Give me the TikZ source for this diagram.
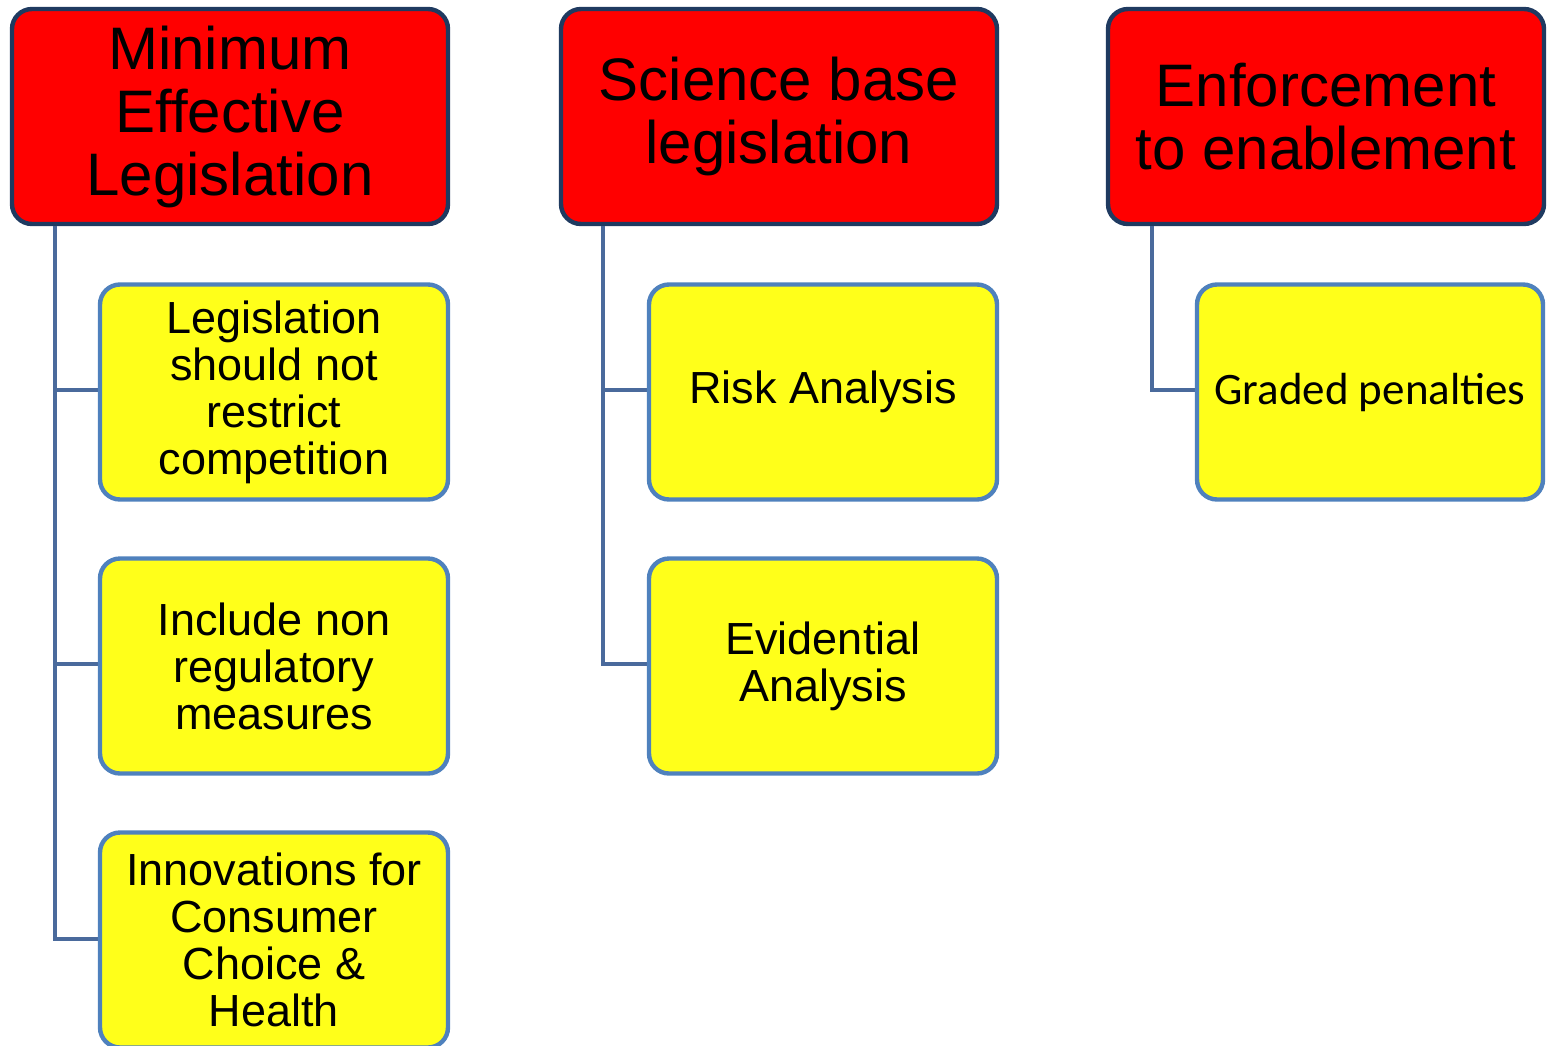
\documentclass[tikz,border=0pt]{standalone}
\usepackage{fontspec}
\setmainfont{Liberation Sans}
\newfontfamily\calibri{Carlito}
\definecolor{rouge}{HTML}{FF0000}
\definecolor{jaune}{HTML}{FFFF1A}
\definecolor{marine}{HTML}{1F3A60}
\definecolor{bleu}{HTML}{4F81BD}
\definecolor{trait}{HTML}{4A6A9C}
\begin{document}
\begin{tikzpicture}[x=0.5pt,y=-0.5pt, % un pixel = 0.5pt, y vers le bas
  titre/.style={draw=marine,line width=2.2pt,fill=rouge,rounded corners=10pt,
    minimum width=218pt,minimum height=107.5pt,align=center,inner sep=0pt,
    font=\fontsize{30}{31.5}\selectfont},
  boite/.style={draw=bleu,line width=2.2pt,fill=jaune,rounded corners=10pt,
    minimum width=174pt,minimum height=107.5pt,align=center,inner sep=0pt,
    font=\fontsize{22.5}{23.5}\selectfont},
  lien/.style={draw=trait,line width=2pt}]
\useasboundingbox (0,0) rectangle (1547,1045); % le cadre de l'image
% les titres
\node[titre] (t1) at (230,116.5) {Minimum\\Effective\\Legislation};
\node[titre] (t2) at (779,116.5) {Science base\\legislation};
\node[titre] (t3) at (1326,116.5) {Enforcement\\to enablement};
% les points de depart des traits
\coordinate (d1) at (55,226);
\coordinate (d2) at (603,226);
\coordinate (d3) at (1152,226);
% les traits (sous les boites)
\draw[lien] (d1) |- (274,390);
\draw[lien] (d1) |- (274,664);
\draw[lien] (d1) |- (274,939);
\draw[lien] (d2) |- (823,390);
\draw[lien] (d2) |- (823,664);
\draw[lien] (d3) |- (1370,390);
% colonne 1
\node[boite] (a1) at (274,392) {Legislation\\should not\\restrict\\competition};
\node[boite] (a2) at (274,666) {Include non\\regulatory\\measures};
\node[boite] (a3) at (274,940) {Innovations for\\Consumer\\Choice \&\\Health};
% colonne 2
\node[boite] (b1) at (823,392) {Risk Analysis};
\node[boite] (b2) at (823,666) {Evidential\\Analysis};
% colonne 3
\node[boite,minimum width=173pt,font=\calibri\fontsize{22.5}{23.5}\selectfont] (c1) at (1370,392) {Graded penalties};
\end{tikzpicture}
\end{document}
